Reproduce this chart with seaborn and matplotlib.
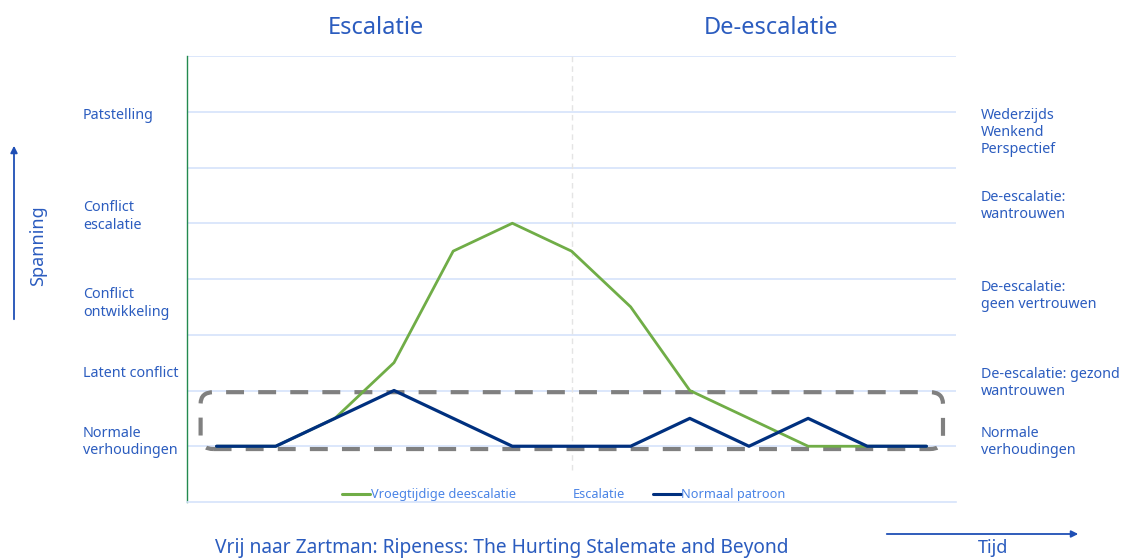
import matplotlib
matplotlib.use("Agg")
import matplotlib.pyplot as plt
import matplotlib.transforms as mtransforms
from matplotlib.patches import FancyBboxPatch
from matplotlib.lines import Line2D
import seaborn as sns
import pandas as pd
import numpy as np

# ---- data ----
tijd = [0, 1, 2, 3, 4, 5, 6, 7, 8, 9, 10, 11, 12]
normaal_patroon = [1, 1, 1.5, 2, 1.5, 1, 1, 1, 1.5, 1, 1.5, 1, 1]
vroegtijdige_deescalatie = [1, 1, 1.5, 2.5, 4.5, 5, 4.5, 3.5, 2, 1.5, 1, 1, 1]
escalatie_grens = 6

left_labels = ["Patstelling", "Conflict\nescalatie", "Conflict\nontwikkeling",
               "Latent conflict", "Normale\nverhoudingen"]
right_labels = ["Wederzijds\nWenkend\nPerspectief", "De-escalatie:\nwantrouwen",
                "De-escalatie:\ngeen vertrouwen", "De-escalatie: gezond\nwantrouwen",
                "Normale\nverhoudingen"]
left_label_pos = [6.94, 5.12, 3.56, 2.30, 1.07]
right_label_pos = [6.63, 5.31, 3.70, 2.14, 1.07]

titles = ["Escalatie", "De-escalatie"]
bron = "Vrij naar Zartman: Ripeness: The Hurting Stalemate and Beyond"

# ---- styling ----
sns.set_theme(style="white")
plt.rcParams['font.family'] = ['Noto Sans', 'DejaVu Sans']

TEXT_BLUE = "#2b5cbf"
LEGEND_BLUE = "#4a84e6"
GREEN = "#70ad47"
NAVY = "#00307f"
GRID = "#d6e3fb"

W, H = 1134, 558
fig = plt.figure(figsize=(W / 100, H / 100), dpi=100)
ax = fig.add_axes([187 / W, 1 - 502 / H, (956 - 187) / W, (502 - 56) / H])

df = pd.DataFrame({
    "tijd": tijd * 2,
    "spanning": vroegtijdige_deescalatie + normaal_patroon,
    "reeks": ["Vroegtijdige deescalatie"] * len(tijd) + ["Normaal patroon"] * len(tijd),
})

# escalation boundary (faint dashed vertical)
ax.vlines(escalatie_grens, 0.57, 8, colors="#e4e4e4", linestyles=(0, (4, 3)), lw=1, zorder=1)

sns.lineplot(data=df[df.reeks == "Vroegtijdige deescalatie"], x="tijd", y="spanning",
             color=GREEN, lw=2.0, ax=ax, zorder=3, legend=False)
sns.lineplot(data=df[df.reeks == "Normaal patroon"], x="tijd", y="spanning",
             color=NAVY, lw=2.3, ax=ax, zorder=4, legend=False)

ax.set_xlim(-0.5, len(tijd) - 0.5)
ax.set_ylim(0, 8)
ax.set_yticks(range(1, 9))
ax.set_xticks([])
ax.tick_params(left=False, labelleft=False, bottom=False, labelbottom=False)
ax.yaxis.grid(True, color=GRID, lw=1.2)
ax.set_axisbelow(True)
ax.set_xlabel("")
ax.set_ylabel("")
for s in ["top", "right"]:
    ax.spines[s].set_visible(False)
ax.spines["left"].set_color("#238a4f")
ax.spines["left"].set_linewidth(1.0)
ax.spines["bottom"].set_color(GRID)
ax.spines["bottom"].set_linewidth(1.2)

# dashed rounded box around normal pattern range
y0 = min(normaal_patroon) - 0.05
y1 = max(normaal_patroon) - 0.03
x0 = tijd[0] - 0.27
x1 = tijd[-1] + 0.28
box = FancyBboxPatch((x0, y0), x1 - x0, y1 - y0,
                     boxstyle="round,pad=0,rounding_size=0.22",
                     mutation_aspect=0.95,
                     fill=False, ec="#808080", lw=3.0,
                     ls=(0, (4.3, 3.4)), zorder=2)
ax.add_patch(box)

# legend
handles = [Line2D([], [], color=GREEN, lw=2.2),
           Line2D([], [], color="white", lw=2.2),
           Line2D([], [], color=NAVY, lw=2.2)]
labels = ["Vroegtijdige deescalatie", "Escalatie", "Normaal patroon"]
leg = ax.legend(handles, labels, loc="center", bbox_to_anchor=(0.49, 0.016),
                ncol=3, frameon=False, fontsize=9.2, handlelength=2.2,
                handletextpad=0.05, columnspacing=2.2)
for t in leg.get_texts():
    t.set_color(LEGEND_BLUE)

# labels left / right
tr_left = mtransforms.blended_transform_factory(fig.transFigure, ax.transData)
for lab, yp in zip(left_labels, left_label_pos):
    ax.text(83 / W, yp, lab, transform=tr_left, ha="left", va="center",
            fontsize=10.3, color=TEXT_BLUE, linespacing=1.2)
for lab, yp in zip(right_labels, right_label_pos):
    ax.text(981 / W, yp, lab, transform=tr_left, ha="left", va="center",
            fontsize=10.3, color=TEXT_BLUE, linespacing=1.2)

# titles
fig.text(376 / W, 1 - 28 / H, titles[0], ha="center", va="center",
         fontsize=17, color=TEXT_BLUE)
fig.text(771 / W, 1 - 28 / H, titles[1], ha="center", va="center",
         fontsize=17, color=TEXT_BLUE)

# axis arrows and captions
fig.patches.append(matplotlib.patches.FancyArrowPatch(
    (14 / W, 1 - 322 / H), (14 / W, 1 - 143 / H), transform=fig.transFigure,
    arrowstyle="-|>", mutation_scale=10, color="#1f4fb5", lw=1.3))
fig.text(38 / W, 1 - 246 / H, "Spanning", rotation=90, ha="center", va="center",
         fontsize=13, color=TEXT_BLUE)
fig.patches.append(matplotlib.patches.FancyArrowPatch(
    (884 / W, 1 - 534 / H), (1081 / W, 1 - 534 / H), transform=fig.transFigure,
    arrowstyle="-|>", mutation_scale=10, color="#1f4fb5", lw=1.3))
fig.text(993 / W, 1 - 548 / H, "Tijd", ha="center", va="center",
         fontsize=13, color=TEXT_BLUE)
fig.text(502 / W, 1 - 548 / H, bron, ha="center", va="center",
         fontsize=13.8, color=TEXT_BLUE)

fig.savefig("out.png", dpi=100)
